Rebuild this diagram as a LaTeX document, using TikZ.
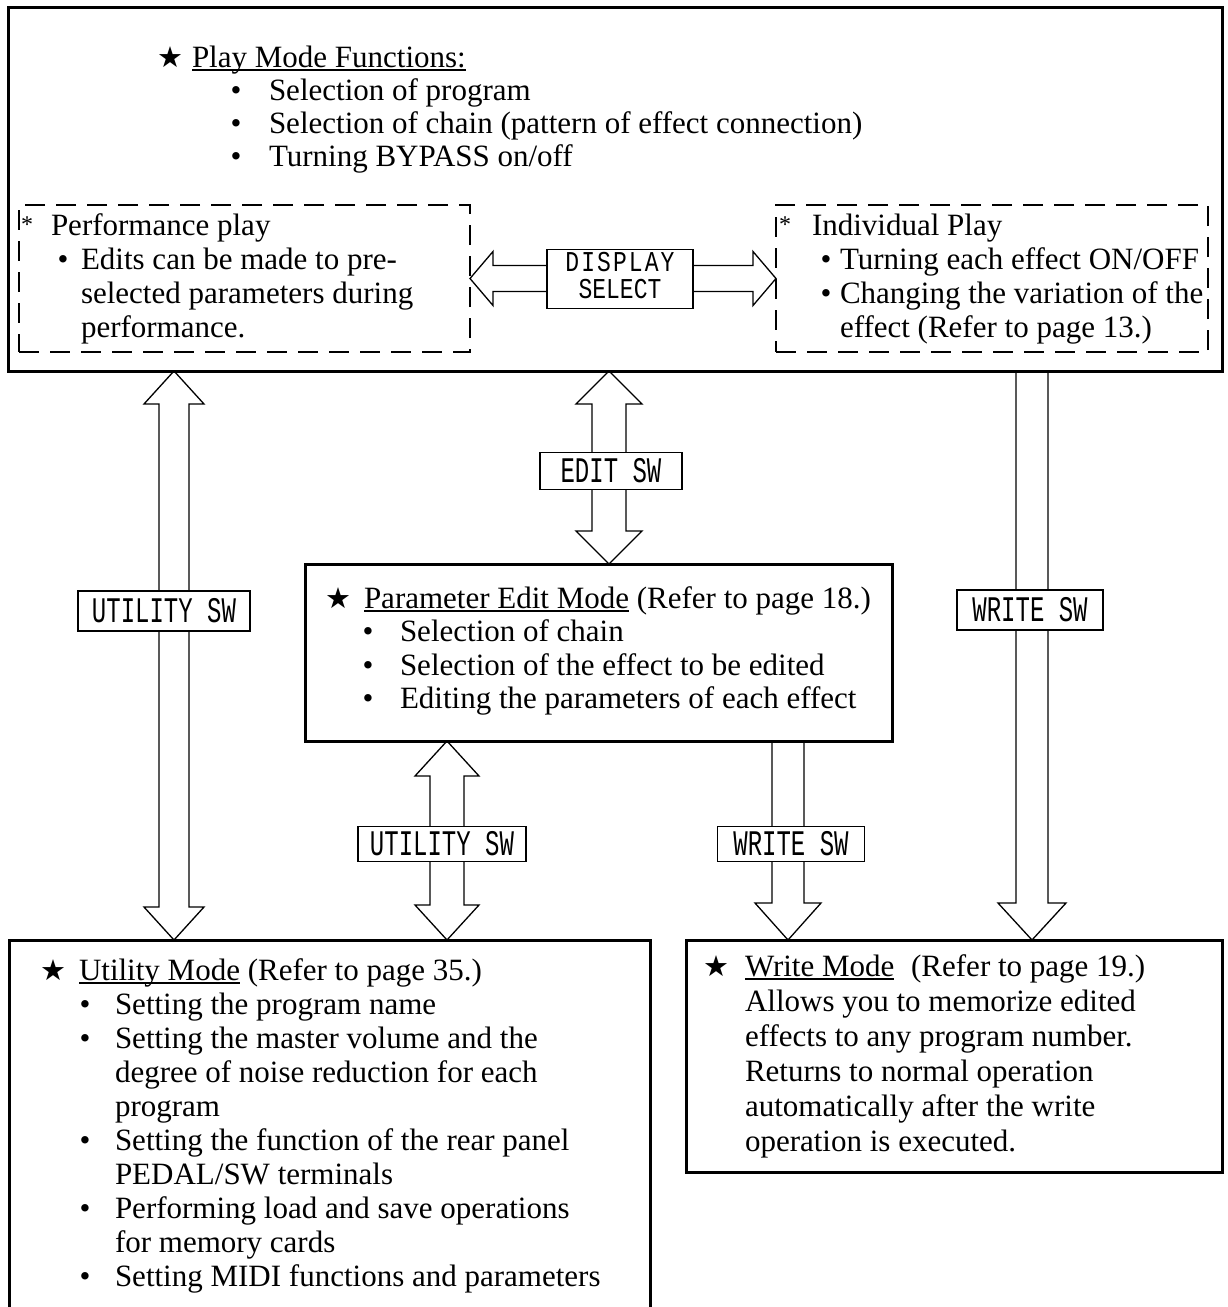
\documentclass[tikz,border=0pt]{standalone}
\usepackage{fontspec}
\usepackage{graphicx}
\setmainfont{Liberation Serif}
\newfontfamily\lblfont{Liberation Mono}
\newfontfamily\lblwide[LetterSpace=9]{Liberation Mono}
\newfontfamily\symfont{DejaVu Sans}
\usetikzlibrary{calc}
\pgfdeclarelayer{bg}
\pgfsetlayers{bg,main}
\newsavebox\myulbox
\newcommand\myul[1]{\sbox\myulbox{#1}\rlap{\rule[-3.5pt]{\wd\myulbox}{1.4pt}}\usebox\myulbox}
% vertical double block arrow: #1 upper tip, #2 lower tip, #3 head half width, #4 shaft half width, #5 head length
\newcommand\vdbl[5]{%
  \draw[arr] let \p1=(#1), \p2=(#2) in
    (\x1,\y1) -- (\x1+#3,\y1-#5) -- (\x1+#4,\y1-#5) -- (\x1+#4,\y2+#5) -- (\x1+#3,\y2+#5)
    -- (\x1,\y2) -- (\x1-#3,\y2+#5) -- (\x1-#4,\y2+#5) -- (\x1-#4,\y1-#5) -- (\x1-#3,\y1-#5) -- cycle;}
% vertical single down block arrow
\newcommand\vdown[5]{%
  \filldraw[arr] let \p1=(#1), \p2=(#2) in
    (\x1-#4,\y1) -- (\x1-#4,\y2+#5) -- (\x1-#3,\y2+#5) -- (\x1,\y2)
    -- (\x1+#3,\y2+#5) -- (\x1+#4,\y2+#5) -- (\x1+#4,\y1);}
% horizontal double block arrow: #1 left tip, #2 right tip, #3 head length, #4 head half height, #5 shaft half height
\newcommand\hdbl[5]{%
  \draw[arr] let \p1=(#1), \p2=(#2) in
    (\x1,\y1) -- (\x1+#3,\y1+#4) -- (\x1+#3,\y1+#5) -- (\x2-#3,\y1+#5) -- (\x2-#3,\y1+#4)
    -- (\x2,\y1) -- (\x2-#3,\y1-#4) -- (\x2-#3,\y1-#5) -- (\x1+#3,\y1-#5) -- (\x1+#3,\y1-#4) -- cycle;}
\tikzset{
  mainbox/.style={draw, line width=3pt, inner sep=0pt, outer sep=0pt, anchor=north west},
  dashbox/.style={draw, line width=1.6pt, dash pattern=on 20pt off 11pt, inner sep=0pt, outer sep=0pt, anchor=north west},
  plainbox/.style={inner sep=0pt, outer sep=0pt, anchor=north west},
  arr/.style={draw, fill=white, line width=1.3pt, line join=miter},
  lbl/.style={draw, fill=white, line width=1.3pt, inner sep=0pt, outer sep=0pt, font=\lblfont\fontsize{24}{17.5}\selectfont},
  txt/.style={anchor=base west, inner sep=0pt, outer sep=0pt, font=\fontsize{31}{34}\selectfont},
  bul/.style={anchor=base, inner sep=0pt, outer sep=0pt, font=\fontsize{31}{34}\selectfont},
  starmark/.style={anchor=base, inner sep=0pt, outer sep=0pt, font=\symfont\fontsize{29}{29}\selectfont},
  ast/.style={anchor=base, inner sep=0pt, outer sep=0pt, font=\fontsize{24}{24}\selectfont},
}
\begin{document}
\begin{tikzpicture}[x=1pt, y=-1pt]
\useasboundingbox (0,0) rectangle (1227,1307);
\clip (0,0) rectangle (1227,1307);
% boxes (named)
\node[mainbox, minimum width=1214pt, minimum height=364pt] (playbox) at (8,7) {};
\node[dashbox, minimum width=451pt, minimum height=147pt] (ldash) at (19,205) {};
\node[dashbox, minimum width=432pt, minimum height=147pt] (rdash) at (776,205) {};
\node[mainbox, minimum width=587pt, minimum height=177pt] (param) at (305,564) {};
\node[plainbox, minimum width=641pt, minimum height=380pt] (util) at (9,940) {};
\node[mainbox, minimum width=536pt, minimum height=232pt] (write) at (686,940) {};
\draw[line width=3pt] (util.south west) -- (util.north west) -- (util.north east) -- (util.south east);
% arrow axes
\coordinate (axU1) at (174,0);
\coordinate (axE) at (609,0);
\coordinate (axW1) at (1032,0);
\coordinate (axU2) at (447,0);
\coordinate (axW2) at (788,0);
\begin{pgfonlayer}{bg}
\fill[white] (0,0) rectangle (1227,1307);
\hdbl{ldash.east}{rdash.west}{23pt}{27pt}{13pt}
\vdbl{playbox.south -| axU1}{util.north -| axU1}{30pt}{15pt}{33pt}
\vdbl{playbox.south -| axE}{param.north -| axE}{33pt}{17pt}{33pt}
\vdown{playbox.south -| axW1}{write.north -| axW1}{34pt}{16pt}{37pt}
\vdbl{param.south -| axU2}{util.north -| axU2}{32pt}{17pt}{35pt}
\vdown{param.south -| axW2}{write.north -| axW2}{33pt}{16pt}{37pt}
% labels
\node[lbl, minimum width=146pt, minimum height=59pt, font=\lblfont\fontsize{23}{19.5}\selectfont] (lD) at (620,279)
  {\scalebox{1}[1.25]{\begin{tabular}{@{}c@{}}{\lblwide DISPLAY}\\SELECT\end{tabular}}};
\node[lbl, minimum width=172pt, minimum height=40pt] (lU1) at (164,611) {\scalebox{1}[1.5]{UTILITY SW}};
\node[lbl, minimum width=142pt, minimum height=37pt] (lE) at (611,471) {\scalebox{1}[1.5]{EDIT SW}};
\node[lbl, minimum width=146pt, minimum height=40pt] (lW1) at (1030,610) {\scalebox{1}[1.5]{WRITE SW}};
\node[lbl, minimum width=168pt, minimum height=35pt] (lU2) at (442,844) {\scalebox{1}[1.5]{UTILITY SW}};
\node[lbl, minimum width=147pt, minimum height=35pt] (lW2) at (791,844) {\scalebox{1}[1.5]{WRITE SW}};
\end{pgfonlayer}
% Play mode text
\node[starmark] (st1) at (170,67) {★};
\node[txt] (p0) at (192,67) {\myul{Play Mode Functions:}};
\node[bul] (pb1) at (236,100) {•};
\node[txt] (p1) at (269,100) {Selection of program};
\node[bul] (pb2) at (236,133) {•};
\node[txt] (p2) at (269,133) {Selection of chain (pattern of effect connection)};
\node[bul] (pb3) at (236,166) {•};
\node[txt] (p3) at (269,166) {Turning BYPASS on/off};
% Performance play
\node[ast] (la) at (27,232) {*};
\node[txt] (l0) at (51,235) {Performance play};
\node[bul] (lb1) at (63,269) {•};
\node[txt] (l1) at (81,269) {Edits can be made to pre-};
\node[txt] (l2) at (81,303) {selected parameters during};
\node[txt] (l3) at (81,337) {performance.};
% Individual play
\node[ast] (ra) at (785,232) {*};
\node[txt] (r0) at (812,235) {Individual Play};
\node[bul] (rb1) at (826,269) {•};
\node[txt] (r1) at (840,269) {Turning each effect ON/OFF};
\node[bul] (rb2) at (826,303) {•};
\node[txt] (r2) at (840,303) {Changing the variation of the};
\node[txt] (r3) at (840,337) {effect (Refer to page 13.)};
% Parameter edit
\node[starmark] (st2) at (338,608) {★};
\node[txt] (e0) at (364,608) {\myul{Parameter Edit Mode} (Refer to page 18.)};
\node[bul] (eb1) at (368,641) {•};
\node[txt] (e1) at (400,641) {Selection of chain};
\node[bul] (eb2) at (368,675) {•};
\node[txt] (e2) at (400,675) {Selection of the effect to be edited};
\node[bul] (eb3) at (368,708) {•};
\node[txt] (e3) at (400,708) {Editing the parameters of each effect};
% Utility
\node[starmark] (st3) at (53,980) {★};
\node[txt] (u0) at (79,980) {\myul{Utility Mode} (Refer to page 35.)};
\node[bul] (ub1) at (85,1014) {•};
\node[txt] (u1) at (115,1014) {Setting the program name};
\node[bul] (ub2) at (85,1048) {•};
\node[txt] (u2) at (115,1048) {Setting the master volume and the};
\node[txt] (u3) at (115,1082) {degree of noise reduction for each};
\node[txt] (u4) at (115,1116) {program};
\node[bul] (ub5) at (85,1150) {•};
\node[txt] (u5) at (115,1150) {Setting the function of the rear panel};
\node[txt] (u6) at (115,1184) {PEDAL/SW terminals};
\node[bul] (ub7) at (85,1218) {•};
\node[txt] (u7) at (115,1218) {Performing load and save operations};
\node[txt] (u8) at (115,1252) {for memory cards};
\node[bul] (ub9) at (85,1286) {•};
\node[txt] (u9) at (115,1286) {Setting MIDI functions and parameters};
% Write
\node[starmark] (st4) at (716,976) {★};
\node[txt] (w0) at (745,976) {\myul{Write Mode}\hspace{9pt} (Refer to page 19.)};
\node[txt] (w1) at (745,1011) {Allows you to memorize edited};
\node[txt] (w2) at (745,1046) {effects to any program number.};
\node[txt] (w3) at (745,1081) {Returns to normal operation};
\node[txt] (w4) at (745,1116) {automatically after the write};
\node[txt] (w5) at (745,1151) {operation is executed.};
\end{tikzpicture}
\end{document}
